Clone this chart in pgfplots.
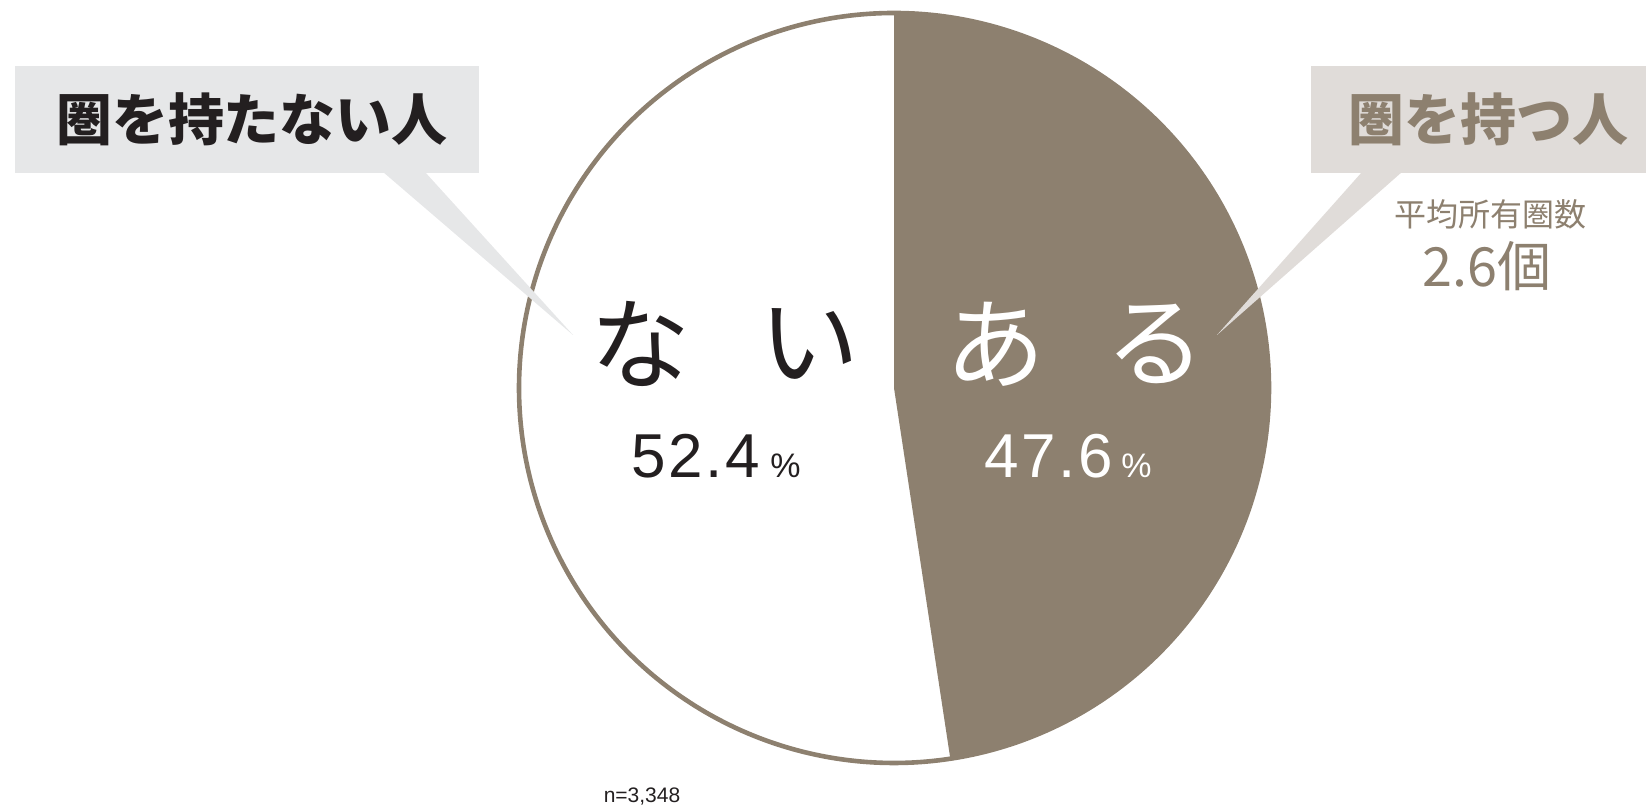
\documentclass[border=0pt]{standalone}
\usepackage{pgfplots}
\usepackage{pgfplotstable}
\pgfplotsset{compat=1.18}
\usepackage{fontspec}
\setmainfont{Liberation Sans}
\newfontfamily\jp{Noto Sans CJK JP}
\definecolor{pbrown}{RGB}{141,128,111}
\definecolor{txtblack}{RGB}{35,31,32}
\definecolor{boxgray}{RGB}{230,231,232}
\definecolor{boxbeige}{RGB}{224,220,217}
\pgfplotstableread{
label share
nai 52.4
aru 47.6
}\piedata
\begin{document}
\begin{tikzpicture}
\pgfplotstablegetelem{0}{share}\of\piedata \let\shareNai\pgfplotsretval
\pgfplotstablegetelem{1}{share}\of\piedata \let\shareAru\pgfplotsretval
\pgfmathsetmacro\angAru{90-\shareAru*3.6}
\pgfmathsetmacro\angNai{90+\shareNai*3.6}
\begin{axis}[
  scale only axis, width=823pt, height=404pt,
  xmin=0, xmax=1646, ymin=0, ymax=808,
  hide axis, clip=false,
]
% pie wedges
\addplot[fill=white, draw=none, domain=90:\angNai, samples=200, variable=\t]
  ({894+375*cos(\t)}, {420+375*sin(\t)}) -- (axis cs:894,420) -- cycle;
\addplot[fill=pbrown, draw=none, domain=\angAru:90, samples=200, variable=\t]
  ({894+375*cos(\t)}, {420+375*sin(\t)}) -- (axis cs:894,420) -- cycle;
\addplot[draw=pbrown, line width=2.3pt, domain=0:360, samples=361, variable=\t]
  ({894+375*cos(\t)}, {420+375*sin(\t)}) -- cycle;
% callout boxes
\addplot[fill=boxgray, draw=none] coordinates {(15,635) (479,635) (479,742) (15,742)} -- cycle;
\addplot[fill=boxgray, draw=none] coordinates {(383,636) (425,636) (573,473)} -- cycle;
\addplot[fill=boxbeige, draw=none] coordinates {(1311,635) (1646,635) (1646,742) (1311,742)} -- cycle;
\addplot[fill=boxbeige, draw=none] coordinates {(1362,636) (1402,636) (1217,473)} -- cycle;
% texts
\node[text=txtblack, font=\jp\bfseries\fontsize{28}{28}\selectfont] at (axis cs:252,689) {圏を持たない人};
\node[text=pbrown, font=\jp\bfseries\fontsize{28}{28}\selectfont] at (axis cs:1488,689) {圏を持つ人};
\node[text=pbrown, font=\jp\fontsize{16}{16}\selectfont] at (axis cs:1490,594) {平均所有圏数};
\node[text=pbrown, font=\jp\fontsize{27}{27}\selectfont] at (axis cs:1487,542) {2.6個};
\node[text=txtblack, font=\jp\fontsize{50}{50}\selectfont] at (axis cs:640,464) {な};
\node[text=txtblack, font=\jp\fontsize{50}{50}\selectfont] at (axis cs:809,464) {い};
\node[text=white, font=\jp\fontsize{50}{50}\selectfont] at (axis cs:995,464) {あ};
\node[text=white, font=\jp\fontsize{50}{50}\selectfont] at (axis cs:1155,464) {る};
\node[text=txtblack, anchor=base east, inner sep=0pt, font=\fontsize{31}{31}\selectfont\addfontfeatures{LetterSpace=4}] at (axis cs:760,330) {\shareNai};
\node[text=txtblack, anchor=base west, inner sep=0pt, font=\fontsize{17}{17}\selectfont] at (axis cs:770,330) {\%};
\node[text=white, anchor=base east, inner sep=0pt, font=\fontsize{31}{31}\selectfont\addfontfeatures{LetterSpace=4}] at (axis cs:1113,330) {\shareAru};
\node[text=white, anchor=base west, inner sep=0pt, font=\fontsize{17}{17}\selectfont] at (axis cs:1121,330) {\%};
\node[text=txtblack, font=\fontsize{10.5}{10.5}\selectfont] at (axis cs:642,11) {n=3,348};
\end{axis}
\pgfresetboundingbox
\path (current axis.south west) rectangle (current axis.north east);
\end{tikzpicture}
\end{document}
